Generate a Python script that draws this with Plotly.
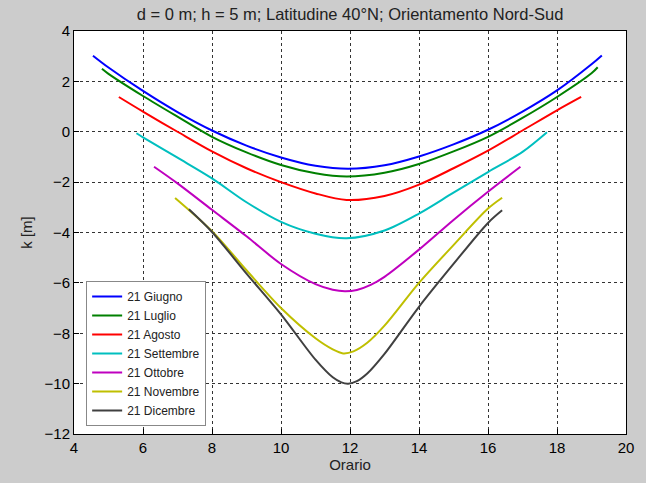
import plotly.graph_objects as go

names = ["21 Giugno", "21 Luglio", "21 Agosto", "21 Settembre", "21 Ottobre", "21 Novembre", "21 Dicembre"]
colors = ["#0000ff", "#008000", "#ff0000", "#00bfbf", "#bf00bf", "#bfbf00", "#404040"]

x_giugno = [4.55, 5, 6, 7, 8, 9, 10, 11, 11.95, 13, 14, 15, 16, 17, 18, 19, 19.3]
y_giugno = [3.02, 2.55, 1.62, 0.78, 0.05, -0.55, -1.02, -1.35, -1.47, -1.33, -0.98, -0.5, 0.08, 0.8, 1.64, 2.68, 3.03]

x_luglio = [4.81, 5, 6, 7, 8, 9, 10, 11, 11.9, 13, 14, 15, 16, 17, 18, 19, 19.18]
y_luglio = [2.5, 2.3, 1.42, 0.6, -0.2, -0.82, -1.32, -1.65, -1.78, -1.63, -1.28, -0.78, -0.2, 0.55, 1.38, 2.32, 2.56]

x_agosto = [5.3, 6, 7, 8, 9, 10, 11, 11.9, 13, 14, 15, 16, 17, 18, 18.7]
y_agosto = [1.38, 0.8, 0.0, -0.78, -1.45, -2.0, -2.45, -2.71, -2.55, -2.1, -1.45, -0.75, 0.05, 0.85, 1.38]

x_settembre = [5.81, 6, 7, 8, 9, 10, 11, 11.9, 13, 14, 15, 16, 17, 17.71]
y_settembre = [-0.06, -0.22, -1.03, -1.85, -2.8, -3.58, -4.05, -4.23, -3.92, -3.25, -2.42, -1.6, -0.8, -0.02]

x_ottobre = [6.32, 7, 8, 9, 10, 11, 11.5, 11.85, 12.2, 12.6, 13, 14, 15, 16, 16.94]
y_ottobre = [-1.39, -2.05, -3.1, -4.15, -5.25, -6.05, -6.27, -6.33, -6.28, -6.08, -5.76, -4.68, -3.5, -2.38, -1.39]

x_novembre = [6.93, 8, 9, 10, 11, 11.5, 11.8, 12.1, 12.5, 13, 14, 15, 16, 16.41]
y_novembre = [-2.63, -3.95, -5.5, -7.0, -8.2, -8.64, -8.8, -8.72, -8.38, -7.7, -6.0, -4.5, -3.05, -2.62]

x_dicembre = [7.33, 8, 9, 10, 11, 11.5, 11.75, 11.95, 12.2, 12.5, 13, 14, 15, 16, 16.41]
y_dicembre = [-3.08, -3.98, -5.63, -7.25, -9.05, -9.75, -9.95, -10.0, -9.9, -9.6, -8.82, -6.95, -5.25, -3.62, -3.12]

xs = [x_giugno, x_luglio, x_agosto, x_settembre, x_ottobre, x_novembre, x_dicembre]
ys = [y_giugno, y_luglio, y_agosto, y_settembre, y_ottobre, y_novembre, y_dicembre]

x_ticks = [4, 6, 8, 10, 12, 14, 16, 18, 20]
y_ticks = [4, 2, 0, -2, -4, -6, -8, -10, -12]

fig = go.Figure()
for n, c, x, y in zip(names, colors, xs, ys):
    fig.add_trace(go.Scatter(x=x, y=y, mode="lines", name=n,
                             line=dict(color=c, width=2, shape="spline", smoothing=0.9)))

fnt = "Liberation Sans, Arial, sans-serif"
axis_common = dict(showline=True, linecolor="black", linewidth=1, mirror=True,
                   ticks="inside", ticklen=5, tickcolor="black",
                   showgrid=True, gridcolor="#333333", gridwidth=1, griddash="3px,3px",
                   zeroline=False, tickfont=dict(family=fnt, size=15, color="black"))

fig.update_layout(
    width=646, height=483,
    paper_bgcolor="#cccccc", plot_bgcolor="white",
    margin=dict(l=74, r=20, t=31, b=45),
    title=dict(text="d = 0 m; h = 5 m; Latitudine 40°N; Orientamento Nord-Sud",
               x=(74 + 626) / 2 / 646, xanchor="center", y=1 - 14 / 483, yanchor="middle",
               font=dict(family=fnt, size=16.5, color="#222222")),
    xaxis=dict(range=[4, 20], tickvals=x_ticks,
               title=dict(text="Orario", font=dict(family=fnt, size=15, color="#222222"), standoff=4),
               **axis_common),
    yaxis=dict(range=[-12, 4], tickvals=y_ticks,
               title=dict(text="k [m]", font=dict(family=fnt, size=15, color="#222222"), standoff=8),
               **axis_common),
    legend=dict(x=0.022, y=0.02, xanchor="left", yanchor="bottom",
                bgcolor="white", bordercolor="#888888", borderwidth=1,
                font=dict(family=fnt, size=12, color="#222222"),
                tracegroupgap=0, itemwidth=30),
    showlegend=True,
)

fig.write_html("out.html")
